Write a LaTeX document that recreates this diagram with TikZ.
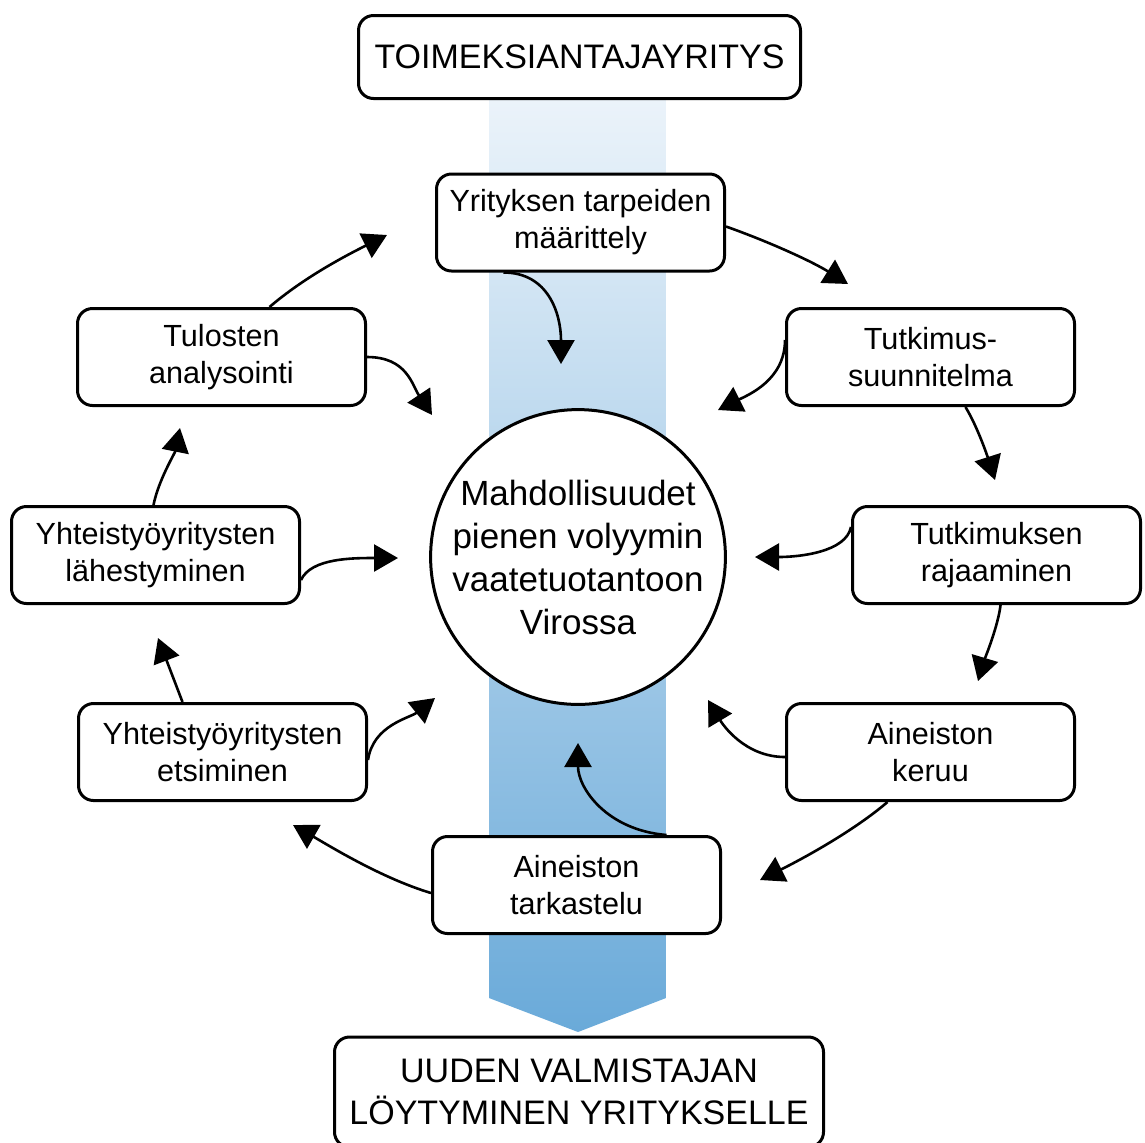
\documentclass[tikz,border=0pt]{standalone}
\usepackage{fontspec}
\setmainfont{Liberation Sans}
\usetikzlibrary{arrows.meta,calc}
\definecolor{bandtop}{RGB}{235,243,250}
\definecolor{bandbottom}{RGB}{106,170,217}

\begin{document}
\begin{tikzpicture}[x=0.5pt,y=-0.5pt,
	stepbox/.style={draw,line width=1.5pt,rounded corners=7.5pt,fill=white,
		minimum width=144pt,minimum height=48.5pt,align=center,
		font=\fontsize{15.3}{18.5}\selectfont},
	endbox/.style={stepbox,font=\fontsize{17}{21}\selectfont},
	flow/.style={line width=1.3pt,-{Triangle[length=12pt,width=13.5pt]}}]
			\useasboundingbox (0,0) rectangle (1145,1142);
			% band
			\shade[top color=bandtop,bottom color=bandbottom] (489,100) -- (666,100) -- (666,998) -- (578,1032) -- (489,998) -- cycle;
			
			\node[endbox,minimum width=221pt,minimum height=41.5pt] (client) at (579.5,57) {TOIMEKSIANTAJAYRITYS};
			\node[endbox,minimum width=244.5pt,minimum height=55pt] (result) at (579,1092) {UUDEN VALMISTAJAN\\LÖYTYMINEN YRITYKSELLE};
			
			\node[draw,circle,line width=1.5pt,fill=white,inner sep=0pt,minimum size=143.5pt,align=center,
				font=\fontsize{17.5}{21.5}\selectfont] (core) at (578,557) {Mahdollisuudet\\pienen volyymin\\vaatetuotantoon\\Virossa};
			
			\node[stepbox] (needs) at (580.5,222.5) {Yrityksen tarpeiden\\määrittely};
			\node[stepbox] (plan) at (930.5,357) {Tutkimus-\\suunnitelma};
			\node[stepbox] (scope) at (996.5,555) {Tutkimuksen\\rajaaminen};
			\node[stepbox] (collect) at (930.5,752) {Aineiston\\keruu};
			\node[stepbox] (review) at (576.5,885) {Aineiston\\tarkastelu};
			\node[stepbox] (search) at (222.5,752) {Yhteistyöyritysten\\etsiminen};
			\node[stepbox] (approach) at (155.5,555) {Yhteistyöyritysten\\lähestyminen};
			\node[stepbox] (analysis) at (221.5,357) {Tulosten\\analysointi};
			
			% free ends of the cycle
			\coordinate (t1) at (387,235);
			\coordinate (t2) at (848,284);
			\coordinate (t3) at (995,480);
			\coordinate (t4) at (978,681);
			\coordinate (t5) at (760,880);
			\coordinate (t6) at (293,825);
			\coordinate (t7) at (158,638);
			\coordinate (t8) at (180,428);
			% free ends towards the centre
			\coordinate (c1) at (561,364);
			\coordinate (c2) at (718,410);
			\coordinate (c3) at (755,557);
			\coordinate (c4) at (708,700);
			\coordinate (c5) at (578,743);
			\coordinate (c6) at (435,698);
			\coordinate (c7) at (398,558);
			\coordinate (c8) at (432,415);
			
			\draw[flow] ($(analysis.north)+(48,0)$) .. controls +(35,-30) and +(-40,20) .. (t1);
			\draw[flow] ($(needs.east)+(0,4)$) .. controls +(45,16) and +(-35,-22) .. (t2);
			\draw[flow] ($(plan.south)+(35,0)$) .. controls +(12,20) and +(-8,-25) .. (t3);
			\draw[flow] ($(scope.south)+(4,0)$) .. controls +(-2,20) and +(6,-20) .. (t4);
			\draw[flow] ($(collect.south)+(-43,0)$) .. controls +(-35,30) and +(40,-20) .. (t5);
			\draw[flow] ($(review.west)+(0,8)$) .. controls +(-50,-15) and +(35,20) .. (t6);
			\draw[flow] ($(search.north)+(-40,0)$) -- (t7);
			\draw[flow] ($(approach.north)+(-2,0)$) .. controls +(5,-25) and +(-5,25) .. (t8);
			
			\draw[flow] ($(needs.south)+(-77,0)$) .. controls +(45,0) and +(0,-50) .. (c1);
			\draw[flow] ($(plan.west)+(0,-17)$) .. controls +(0,40) and +(30,-15) .. (c2);
			\draw[flow] ($(scope.west)+(0,-28)$) .. controls +(-5,25) and +(45,0) .. (c3);
			\draw[flow] ($(collect.west)+(0,5)$) .. controls +(-40,0) and +(15,25) .. (c4);
			\draw[flow] ($(review.north)+(90,0)$) .. controls +(-60,-5) and +(0,45) .. (c5);
			\draw[flow] ($(search.east)+(0,8)$) .. controls +(5,-35) and +(-25,20) .. (c6);
			\draw[flow] ($(approach.east)+(0,25)$) .. controls +(10,-22) and +(-45,0) .. (c7);
			\draw[flow] (analysis.east) .. controls +(40,0) and +(-20,-30) .. (c8);
			
		\end{tikzpicture}
\end{document}
